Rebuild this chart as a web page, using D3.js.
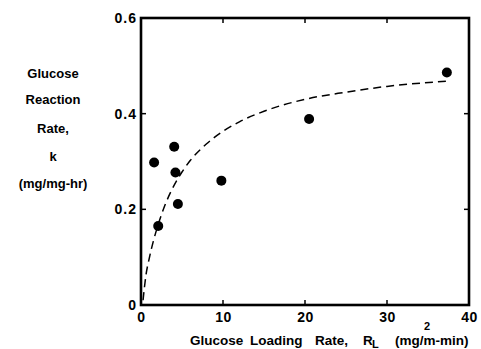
<!DOCTYPE html>
<html>
<head>
<meta charset="utf-8">
<script src="https://cdn.jsdelivr.net/npm/d3@7"></script>
<style>
  html, body { margin: 0; padding: 0; background: #fff; }
  svg { display: block; }
  text { font-family: "Liberation Sans", Arial, sans-serif; font-weight: bold; fill: #000; }
</style>
</head>
<body>
<script>
// Measured glucose reaction rate k (mg/mg-hr) against loading rate R_L (mg/m^2-min)
const loadingRate = [1.6, 4.05, 4.2, 4.5, 2.1, 9.8, 20.5, 37.3];
const reactionRate = [0.298, 0.331, 0.277, 0.211, 0.165, 0.260, 0.389, 0.486];

// Dashed trend curve, read point by point
const curveR = [0.25, 0.6, 1, 1.5, 2, 3, 4, 5, 6, 8, 10, 12, 15, 20, 25, 30, 37.3];
const curveK = [0.01, 0.062, 0.097, 0.133, 0.163, 0.212, 0.249, 0.278, 0.302, 0.337, 0.363, 0.383, 0.405, 0.43, 0.445, 0.457, 0.468];

const xTicks = [0, 10, 20, 30, 40];
const xTickLabels = ["0", "10", "20", "30", "40"];
const yTicks = [0, 0.2, 0.4, 0.6];
const yTickLabels = ["0", "0.2", "0.4", "0.6"];

const yTitleLines = ["Glucose", "Reaction", "Rate,", "k", "(mg/mg-hr)"];

const W = 481, H = 349;
const svg = d3.select("body").append("svg").attr("width", W).attr("height", H);

const x = d3.scaleLinear().domain([0, 40]).range([141, 469]);
const y = d3.scaleLinear().domain([0, 0.6]).range([305, 18]);

// Frame
svg.append("rect")
  .attr("x", x(0)).attr("y", y(0.6))
  .attr("width", x(40) - x(0)).attr("height", y(0) - y(0.6))
  .attr("fill", "none").attr("stroke", "#000").attr("stroke-width", 2.6);

// Axes with inward ticks
const innerX = xTicks.slice(1, -1);
const innerY = yTicks.slice(1, -1);

const bottom = svg.append("g").attr("transform", `translate(0,${y(0)})`)
  .call(d3.axisBottom(x).tickValues(xTicks).tickSize(0)
    .tickFormat((d, i) => xTickLabels[i]));
bottom.select(".domain").remove();
bottom.selectAll("text").attr("font-size", 14).attr("font-family", null)
  .attr("letter-spacing", 0.5).attr("dy", "0.35em").attr("y", 12);

svg.append("g").selectAll("line").data(innerX).join("line")
  .attr("x1", d => x(d)).attr("x2", d => x(d))
  .attr("y1", y(0)).attr("y2", y(0) - 5)
  .attr("stroke", "#000").attr("stroke-width", 1.5);
svg.append("g").selectAll("line").data(innerX).join("line")
  .attr("x1", d => x(d)).attr("x2", d => x(d))
  .attr("y1", y(0.6)).attr("y2", y(0.6) + 5)
  .attr("stroke", "#000").attr("stroke-width", 1.5);

const left = svg.append("g").attr("transform", `translate(${x(0)},0)`)
  .call(d3.axisLeft(y).tickValues(yTicks).tickSize(0).tickPadding(4)
    .tickFormat((d, i) => yTickLabels[i]));
left.select(".domain").remove();
left.selectAll("text").attr("font-size", 14).attr("font-family", null)
  .attr("letter-spacing", 1);

svg.append("g").selectAll("line").data(innerY).join("line")
  .attr("x1", x(0)).attr("x2", x(0) + 5)
  .attr("y1", d => y(d)).attr("y2", d => y(d))
  .attr("stroke", "#000").attr("stroke-width", 1.5);
svg.append("g").selectAll("line").data(innerY).join("line")
  .attr("x1", x(40)).attr("x2", x(40) - 5)
  .attr("y1", d => y(d)).attr("y2", d => y(d))
  .attr("stroke", "#000").attr("stroke-width", 1.5);

// Trend curve
const line = d3.line().x(d => x(d[0])).y(d => y(d[1])).curve(d3.curveMonotoneX);
svg.append("path")
  .datum(curveR.map((r, i) => [r, curveK[i]]))
  .attr("d", line)
  .attr("fill", "none").attr("stroke", "#000")
  .attr("stroke-width", 1.5).attr("stroke-dasharray", "8,5");

// Data points
svg.append("g").selectAll("circle").data(loadingRate).join("circle")
  .attr("cx", d => x(d)).attr("cy", (d, i) => y(reactionRate[i]))
  .attr("r", 5).attr("fill", "#000");

// Y title
svg.append("g").selectAll("text").data(yTitleLines).join("text")
  .attr("x", 53).attr("y", (d, i) => [78, 104, 133, 161, 188][i])
  .attr("text-anchor", "middle").attr("font-size", 13)
  .text(d => d);

// X title, word by word with wide spacing
const xWords = [
  { t: "Glucose", x: 190 },
  { t: "Loading", x: 250 },
  { t: "Rate,", x: 315 },
  { t: "R", x: 363 },
  { t: "(mg/m-min)", x: 395 }
];
svg.append("g").selectAll("text").data(xWords).join("text")
  .attr("x", d => d.x).attr("y", 345).attr("font-size", 13.5)
  .text(d => d.t);
svg.append("text").attr("x", 372).attr("y", 348).attr("font-size", 11).text("L");
svg.append("text").attr("x", 424).attr("y", 330).attr("font-size", 11).text("2");
</script>
</body>
</html>
